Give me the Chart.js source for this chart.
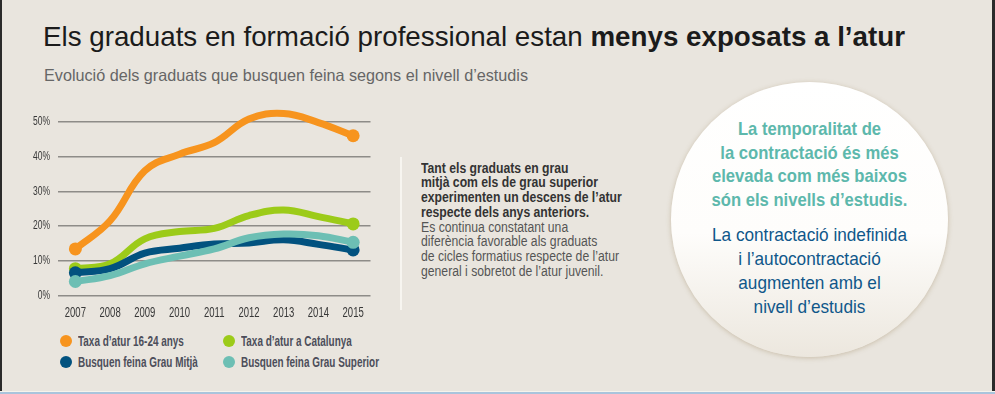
<!DOCTYPE html>
<html lang="ca">
<head>
<meta charset="utf-8">
<script src="https://cdn.jsdelivr.net/npm/chart.js@4.4.1/dist/chart.umd.min.js"></script>
<style>
  html, body { margin: 0; padding: 0; }
  body {
    width: 995px; height: 394px; position: relative; overflow: hidden;
    background: #e9e5de;
    font-family: "Liberation Sans", Arial, sans-serif;
  }
  .frame-l { position: absolute; left: 0; top: 0; width: 2px; height: 394px; background: #2b2b2b; }
  .frame-r { position: absolute; right: 0; top: 0; width: 3px; height: 394px; background: #2b2b2b; }
  .frame-b { position: absolute; left: 0; bottom: 0; width: 995px; height: 2px; background: #a9c4dc; }
  .frame-b2 { position: absolute; left: 0; bottom: 2px; width: 995px; height: 1px; background: #f6f3ec; }
  .fit { position: absolute; white-space: nowrap; transform-origin: left top; }
  h1.fit {
    left: 43px; top: 23px; margin: 0;
    font-size: 28px; line-height: 28px; font-weight: normal; color: #1b1b1b;
  }
  h1 b { font-weight: bold; }
  .sub {
    left: 44px; top: 66.5px; margin: 0;
    font-size: 16.5px; line-height: 16.5px; color: #666;
  }
  #wrap { position: absolute; left: 0; top: 88.6px; width: 377px; height: 236.4px; }
  .leg-item { font-size: 14px; line-height: 14px; font-weight: bold; color: #4c4e5a; }
  .leg-dot { position: absolute; width: 12px; height: 12px; border-radius: 50%; }
  .note {
    position: absolute; left: 400px; top: 157px; width: 2px; height: 153px; background: #f7f5f0;
  }
  .note-text {
    left: 421px; top: 160.5px; font-size: 14px; line-height: 14.8px; color: #555;
  }
  .note-text b { color: #333; }
  .circle {
    position: absolute; left: 671px; top: 82px; width: 277px; height: 275px; border-radius: 50%;
    background: linear-gradient(#ffffff 0%, #fefdfb 55%, #ece7de 100%);
    box-shadow: 0 1px 5px rgba(140, 115, 70, 0.35);
  }
  .c-text { left: 671px; width: 277px; text-align: center; font-size: 18.5px; line-height: 23.9px; transform-origin: center top; }
  .c1 { top: 116.6px; color: #5db8ac; font-weight: bold; }
  .c2 { top: 223.3px; color: #0f578a; }
</style>
</head>
<body>
<div class="frame-l"></div>
<div class="frame-r"></div>
<div class="frame-b2"></div>
<div class="frame-b"></div>

<h1 class="fit" id="title">Els graduats en formació professional estan <b>menys exposats a l’atur</b></h1>
<p class="fit sub" id="subtitle">Evolució dels graduats que busquen feina segons el nivell d’estudis</p>

<div id="wrap"><canvas id="chart-atur"></canvas></div>
<div id="legend"></div>

<div class="note"></div>
<div class="fit note-text" id="note">
  <b>Tant els graduats en grau<br>
  mitjà com els de grau superior<br>
  experimenten un descens de l’atur<br>
  respecte dels anys anteriors.</b><br>
  Es continua constatant una<br>
  diferència favorable als graduats<br>
  <span id="note-ref">de cicles formatius respecte de l’atur</span><br>
  general i sobretot de l’atur juvenil.
</div>

<div class="circle"></div>
<div class="fit c-text c1" id="circ1">La temporalitat de<br>la contractació és més<br><span id="circ1-ref">elevada com més baixos</span><br>són els nivells d’estudis.</div>
<div class="fit c-text c2" id="circ2"><span id="circ2-ref">La contractació indefinida</span><br>i l’autocontractació<br>augmenten amb el<br>nivell d’estudis</div>

<script>
'use strict';

/* ── Data ─────────────────────────────────────────────────── */
const years = ['2007', '2008', '2009', '2010', '2011', '2012', '2013', '2014', '2015'];
const yTicks = [0, 10, 20, 30, 40, 50];

const atur1624 = [13.4, 21.5, 35.9, 40.7, 44.0, 50.8, 52.4, 49.8, 46.0];
const aturCat = [7.7, 9.1, 16.3, 18.4, 19.3, 23.0, 24.6, 22.7, 20.6];
const grauMitja = [6.5, 7.7, 12.2, 13.6, 14.8, 15.1, 16.0, 14.7, 13.1];
const grauSuperior = [4.0, 5.7, 9.1, 11.3, 13.4, 16.6, 17.7, 17.2, 15.3];

const seriesLabels = ['Taxa d’atur 16-24 anys', 'Taxa d’atur a Catalunya', 'Busquen feina Grau Mitjà', 'Busquen feina Grau Superior'];

/* ── Colours ──────────────────────────────────────────────── */
const COLORS = {
    orange: '#f7941e',
    lime: '#9ccb19',
    navy: '#02527f',
    teal: '#6dbfb4',
};

const FONT = '"Liberation Sans", Arial, sans-serif';

// markers only on the first and last year
function endPoints(n, r) {
    return Array.from({ length: n }, (_, i) => (i === 0 || i === n - 1) ? r : 0);
}

function line(label, data, color, order) {
    return {
        label, data, order,
        borderColor: color,
        backgroundColor: color,
        borderWidth: 7,
        tension: 0.4,
        borderCapStyle: 'round',
        borderJoinStyle: 'round',
        pointRadius: endPoints(data.length, 6.5),
        pointHoverRadius: endPoints(data.length, 6.5),
        pointBorderWidth: 0,
        pointBackgroundColor: color,
        fill: false,
    };
}

const datasets = [
    line(seriesLabels[0], atur1624, COLORS.orange, 0),
    line(seriesLabels[1], aturCat, COLORS.lime, 3),
    line(seriesLabels[2], grauMitja, COLORS.navy, 2),
    line(seriesLabels[3], grauSuperior, COLORS.teal, 1),
];

// squeeze canvas text horizontally (no condensed font installed)
const condensedText = {
    id: 'condensedText',
    beforeDraw(chart) {
        const ctx = chart.ctx;
        const orig = ctx.fillText;
        ctx._origFillText = orig;
        ctx.fillText = function (text, x, y) {
            this.save();
            this.translate(x, y);
            this.scale(0.68, 1);
            orig.call(this, text, 0, 0);
            this.restore();
        };
    },
    afterDraw(chart) {
        const ctx = chart.ctx;
        if (ctx._origFillText) { ctx.fillText = ctx._origFillText; delete ctx._origFillText; }
    },
};

/* ── Chart ────────────────────────────────────────────────── */
new Chart(document.getElementById('chart-atur'), {
    type: 'line',
    data: { labels: years, datasets },
    plugins: [condensedText],
    options: {
        responsive: true, maintainAspectRatio: false,
        animation: false,
        layout: { padding: { top: 2, right: 5, bottom: 8, left: 0 } },
        scales: {
            x: {
                offset: true,
                grid: { display: false },
                border: { display: false },
                ticks: { color: '#383838', font: { family: FONT, size: 14 }, padding: 1, maxRotation: 0 },
                afterFit: axis => { axis.height = 22; },
            },
            y: {
                min: 0, max: 55,
                afterBuildTicks: axis => { axis.ticks = yTicks.map(v => ({ value: v })); },
                grid: { color: '#8e8c88', lineWidth: 1.5, drawTicks: false },
                border: { display: false },
                ticks: { color: '#383838', font: { family: FONT, size: 12.5 }, padding: 8, callback: v => v + '%' },
                afterFit: axis => { axis.width = 58; },
            },
        },
        plugins: {
            legend: { display: false },
            tooltip: { enabled: false },
        },
    },
});

/* ── Legend (HTML) ────────────────────────────────────────── */
const legendPos = [[66, 340.7], [229, 340.7], [66, 361.7], [229, 361.7]];
const legendColors = [COLORS.orange, COLORS.lime, COLORS.navy, COLORS.teal];
const legendEl = document.getElementById('legend');
const legendTexts = [];
seriesLabels.forEach((label, i) => {
    const [cx, cy] = legendPos[i];
    const dot = document.createElement('div');
    dot.className = 'leg-dot';
    dot.style.left = (cx - 6) + 'px';
    dot.style.top = (cy - 6) + 'px';
    dot.style.background = legendColors[i];
    legendEl.appendChild(dot);
    const txt = document.createElement('div');
    txt.className = 'fit leg-item';
    txt.style.left = (cx + 12) + 'px';
    txt.style.top = (cy - 7.2) + 'px';
    txt.textContent = label;
    legendEl.appendChild(txt);
    legendTexts.push(txt);
});

/* ── Squeeze HTML text to the reference widths ────────────── */
function squeeze(el, ref, target) {
    const k = target / ref.getBoundingClientRect().width;
    el.style.transform = `scaleX(${k})`;
    return k;
}
const title = document.getElementById('title');
squeeze(title, title, 862);
const sub = document.getElementById('subtitle');
squeeze(sub, sub, 484);
const kLeg = squeeze(legendTexts[3], legendTexts[3], 138);
legendTexts.forEach(t => { t.style.transform = `scaleX(${kLeg})`; });
squeeze(document.getElementById('note'), document.getElementById('note-ref'), 198);
squeeze(document.getElementById('circ1'), document.getElementById('circ1-ref'), 195);
squeeze(document.getElementById('circ2'), document.getElementById('circ2-ref'), 195);
</script>
</body>
</html>
